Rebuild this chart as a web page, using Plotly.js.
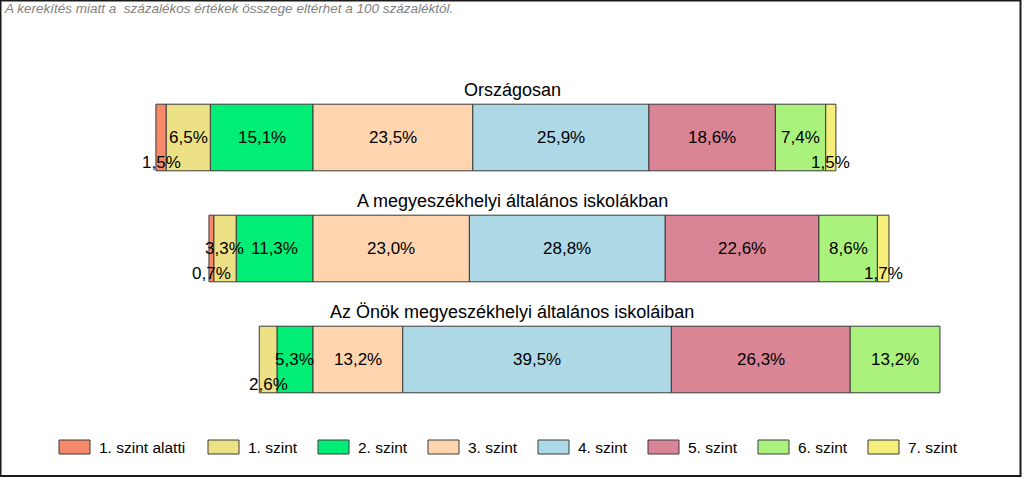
<!DOCTYPE html>
<html>
<head>
<meta charset="utf-8">
<script src="https://cdn.plot.ly/plotly-3.0.1.min.js"></script>
<style>html,body{margin:0;padding:0;background:#fff;}#chart{width:1024px;height:478px;}</style>
</head>
<body>
<div id="chart"></div>
<script>
// ---- data ----
var categories = ['Országosan', 'A megyeszékhelyi általános iskolákban', 'Az Önök megyeszékhelyi általános iskoláiban'];
var levelNames = ['1. szint alatti', '1. szint', '2. szint', '3. szint', '4. szint', '5. szint', '6. szint', '7. szint'];
var belowLevel1 = [1.5, 0.7, 0];
var level1 = [6.5, 3.3, 2.6];
var level2 = [15.1, 11.3, 5.3];
var level3 = [23.5, 23.0, 13.2];
var level4 = [25.9, 28.8, 39.5];
var level5 = [18.6, 22.6, 26.3];
var level6 = [7.4, 8.6, 13.2];
var level7 = [1.5, 1.7, 0];
var noteText = 'A kerekítés miatt a  százalékos értékek összege eltérhet a 100 százaléktól.';

var colors = ['#F7896B', '#EDE185', '#00EE76', '#FFD5B0', '#ADD8E6', '#D98596', '#AAF27C', '#F5EE7A'];
var FONT = 'Liberation Sans, Arial, sans-serif';

var series = [belowLevel1, level1, level2, level3, level4, level5, level6, level7];
var negIdx = [2, 1, 0];      // stacked outward from zero on the left
var posIdx = [3, 4, 5, 6, 7];

var L = 50, R = 50, T = 82, B = 63, W = 1024, H = 478;
var pw = W - L - R, ph = H - T - B;
function px2x(px) { return (px - L) / pw; }
function py2y(py) { return (H - B - py) / ph; }

var traces = [];
negIdx.forEach(function (k) {
  traces.push({
    type: 'bar', orientation: 'h', name: levelNames[k],
    y: categories, x: series[k].map(function (v) { return v === 0 ? null : -v; }),
    marker: { color: colors[k], line: { color: '#3a3a3a', width: 1 } },
    hoverinfo: 'skip', showlegend: false
  });
});
posIdx.forEach(function (k) {
  traces.push({
    type: 'bar', orientation: 'h', name: levelNames[k],
    y: categories, x: series[k].map(function (v) { return v === 0 ? null : v; }),
    marker: { color: colors[k], line: { color: '#3a3a3a', width: 1 } },
    hoverinfo: 'skip', showlegend: false
  });
});

function fmt(v) { return v.toFixed(1).replace('.', ',') + '%'; }

var annotations = [];
// segment labels
categories.forEach(function (c, ci) {
  var cum = 0;
  negIdx.forEach(function (k) {
    var v = series[k][ci];
    if (v > 0) {
      annotations.push({ x: -(cum + v / 2), y: c, text: fmt(v), showarrow: false,
        font: { family: FONT, size: 17, color: '#000' }, yshift: v < 3 ? -25 : 0 });
    }
    cum += v;
  });
  cum = 0;
  posIdx.forEach(function (k) {
    var v = series[k][ci];
    if (v > 0) {
      annotations.push({ x: cum + v / 2, y: c, text: fmt(v), showarrow: false,
        font: { family: FONT, size: 17, color: '#000' }, yshift: v < 3 ? -25 : 0 });
    }
    cum += v;
  });
  // category title
  annotations.push({ xref: 'paper', x: 0.5, y: c, yshift: 48, text: c, showarrow: false,
    font: { family: FONT, size: 18, color: '#000' } });
});

// note
annotations.push({ xref: 'paper', yref: 'paper', x: px2x(2), y: py2y(9), xanchor: 'left', yanchor: 'middle',
  text: '<i>' + noteText + '</i>', showarrow: false, font: { family: FONT, size: 13.5, color: '#7f7f7f' } });

// manual legend
var shapes = [];
var legStarts = [59, 208, 318, 428, 538, 648, 758, 868];
levelNames.forEach(function (n, i) {
  var x0 = legStarts[i];
  shapes.push({ type: 'rect', xref: 'paper', yref: 'paper', x0: px2x(x0), x1: px2x(x0 + 31),
    y0: py2y(454), y1: py2y(440), fillcolor: colors[i], line: { color: '#3a3a3a', width: 1 } });
  annotations.push({ xref: 'paper', yref: 'paper', x: px2x(x0 + 38), y: py2y(447), xanchor: 'left', yanchor: 'middle',
    text: n, showarrow: false, font: { family: FONT, size: 15.5, color: '#000' } });
});

// outer frame
shapes.push({ type: 'rect', xref: 'paper', yref: 'paper', x0: px2x(0.5), x1: px2x(1020.5),
  y0: py2y(476), y1: py2y(0.5), line: { color: '#1a1a1a', width: 2 }, fillcolor: 'rgba(0,0,0,0)' });

var layout = {
  width: W, height: H,
  margin: { l: L, r: R, t: T, b: B, pad: 0 },
  paper_bgcolor: '#fff', plot_bgcolor: '#fff',
  barmode: 'relative', bargap: 0.4,
  showlegend: false,
  font: { family: FONT },
  xaxis: { range: [-(313 - L) / 6.8, (W - R - 313) / 6.8], visible: false, fixedrange: true },
  yaxis: { type: 'category', categoryarray: categories, range: [2.5, -0.5], visible: false, fixedrange: true },
  annotations: annotations,
  shapes: shapes
};

Plotly.newPlot('chart', traces, layout, { displayModeBar: false, staticPlot: true });
</script>
</body>
</html>
